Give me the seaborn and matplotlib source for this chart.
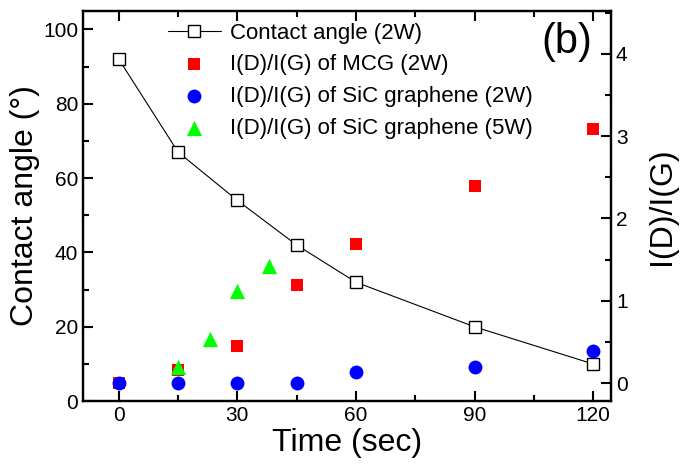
import matplotlib
matplotlib.use('Agg')
import matplotlib.pyplot as plt
from matplotlib.ticker import MultipleLocator
import pandas as pd
import seaborn as sns

# contact angle (left axis)
time_ca = [0, 15, 30, 45, 60, 90, 120]
contact_angle = [92, 67, 54, 42, 32, 20, 10]

# I(D)/I(G) ratios (right axis)
time_mcg = [0, 15, 30, 45, 60, 90, 120]
ratio_mcg = [0.0, 0.16, 0.45, 1.19, 1.69, 2.39, 3.09]
time_sic2 = [0, 15, 30, 45, 60, 90, 120]
ratio_sic2 = [0.0, 0.0, 0.0, 0.0, 0.13, 0.20, 0.39]
time_sic5 = [15, 23, 30, 38]
ratio_sic5 = [0.19, 0.54, 1.12, 1.42]

sns.set_style('ticks')
plt.rcParams['font.family'] = ['Liberation Sans', 'DejaVu Sans']
plt.rcParams['text.color'] = 'black'
plt.rcParams['axes.labelcolor'] = 'black'

fig = plt.figure(figsize=(6.82, 4.72), dpi=100)
ax = fig.add_axes([0.122, 0.150, 0.774, 0.827])
ax2 = ax.twinx()

ca = pd.DataFrame({'t': time_ca, 'v': contact_angle})
sns.lineplot(data=ca, x='t', y='v', ax=ax, color='black', linewidth=0.8,
             marker='s', markersize=8.5, markerfacecolor='white',
             markeredgecolor='black', markeredgewidth=1.0,
             label='Contact angle (2W)', legend=False)

mcg = pd.DataFrame({'t': time_mcg, 'v': ratio_mcg})
sic2 = pd.DataFrame({'t': time_sic2, 'v': ratio_sic2})
sic5 = pd.DataFrame({'t': time_sic5, 'v': ratio_sic5})
sns.scatterplot(data=mcg, x='t', y='v', ax=ax2, marker='s', color='#ff0000',
                s=75, linewidth=0, label='I(D)/I(G) of MCG (2W)', legend=False)
sns.scatterplot(data=sic2, x='t', y='v', ax=ax2, marker='o', color='#0000ff',
                s=100, linewidth=0, label='I(D)/I(G) of SiC graphene (2W)', legend=False)
sns.scatterplot(data=sic5, x='t', y='v', ax=ax2, marker='^', color='#00ff00',
                s=120, linewidth=0, label='I(D)/I(G) of SiC graphene (5W)', legend=False)

ax.set_xlim(-9, 124.5)
ax.set_ylim(0, 105)
ax2.set_ylim(-0.22, 4.52)

ax.xaxis.set_major_locator(MultipleLocator(30))
ax.xaxis.set_minor_locator(MultipleLocator(15))
ax.yaxis.set_major_locator(MultipleLocator(20))
ax.yaxis.set_minor_locator(MultipleLocator(10))
ax2.yaxis.set_major_locator(MultipleLocator(1))
ax2.yaxis.set_minor_locator(MultipleLocator(0.5))

for a in (ax, ax2):
    for sp in a.spines.values():
        sp.set_visible(True)
        sp.set_linewidth(1.6)
        sp.set_color('black')
    a.tick_params(which='major', direction='in', length=7.5, width=1.5,
                  labelsize=15, colors='black')
    a.tick_params(which='minor', direction='in', length=4.5, width=1.5,
                  colors='black')
ax.tick_params(axis='x', which='both', top=True)
ax.tick_params(axis='y', which='both', right=False)
ax2.tick_params(axis='y', which='both', left=False, right=True)

ax.set_xlabel('Time (sec)', fontsize=23, labelpad=2)
ax.set_ylabel('Contact angle (°)', fontsize=23, labelpad=2)
ax2.set_ylabel('I(D)/I(G)', fontsize=23, labelpad=14)

ax2.text(0.917, 0.92, '(b)', transform=ax2.transAxes, fontsize=30,
         ha='center', va='center')

h1, l1 = ax.get_legend_handles_labels()
h2, l2 = ax2.get_legend_handles_labels()
ax2.legend(h1 + h2, l1 + l2, loc='upper left', bbox_to_anchor=(0.16, 0.97),
           frameon=False, fontsize=16, handlelength=2.4, handletextpad=0.4,
           labelspacing=0.48, borderpad=0, borderaxespad=0, numpoints=1)

fig.savefig('out.png', dpi=100)
